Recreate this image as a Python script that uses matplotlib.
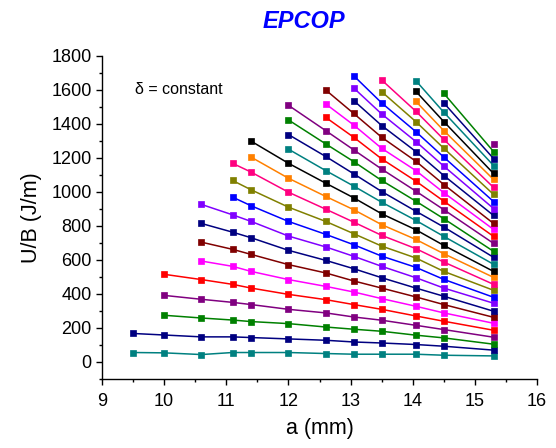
import matplotlib
matplotlib.use("Agg")
import matplotlib.pyplot as plt
from matplotlib.ticker import MultipleLocator

plt.rcParams['font.family'] = ['Liberation Sans', 'DejaVu Sans']

# crack length positions (mm) shared by every curve
a_mm = [9.5, 10.0, 10.6, 11.1, 11.4, 12.0, 12.6, 13.05, 13.5, 14.05, 14.5, 15.3]

# U/B (J/m) for each curve; a curve starts later in a_mm the shorter it is
u01 = [54, 52, 42, 54, 54, 54, 48, 44, 44, 44, 38, 34]
u02 = [166, 157, 146, 146, 142, 134, 126, 116, 110, 101, 91, 68]
u03 = [273, 257, 245, 236, 224, 204, 191, 179, 156, 140, 103]
u04 = [390, 367, 349, 336, 308, 287, 263, 244, 214, 189, 144]
u05 = [514, 483, 455, 433, 396, 365, 336, 308, 269, 238, 185]
u06 = [592, 561, 531, 483, 443, 410, 371, 326, 287, 226]
u07 = [703, 661, 631, 571, 522, 475, 433, 381, 336, 261]
u08 = [813, 762, 729, 655, 596, 547, 494, 433, 385, 297]
u09 = [925, 864, 825, 739, 675, 620, 561, 494, 433, 344]
u10 = [968, 917, 825, 749, 688, 621, 555, 484, 379]
u11 = [1066, 1011, 909, 825, 753, 680, 610, 531, 420]
u12 = [1167, 1115, 997, 897, 821, 743, 665, 586, 455]
u13 = [1203, 1079, 972, 894, 806, 719, 635, 496]
u14 = [1297, 1167, 1050, 964, 870, 776, 684, 531]
u15 = [1250, 1124, 1033, 938, 831, 737, 573]
u16 = [1336, 1207, 1105, 1001, 885, 792, 614]
u17 = [1422, 1281, 1177, 1066, 944, 841, 649]
u18 = [1508, 1359, 1246, 1133, 1003, 894, 696]
u19 = [1437, 1320, 1193, 1062, 944, 737]
u20 = [1516, 1392, 1255, 1124, 994, 778]
u21 = [1598, 1460, 1320, 1179, 1042, 813]
u22 = [1536, 1389, 1236, 1095, 860]
u23 = [1610, 1457, 1295, 1150, 901]
u24 = [1682, 1522, 1353, 1203, 942]
u25 = [1588, 1412, 1255, 984]
u26 = [1657, 1473, 1307, 1025]
u27 = [1531, 1359, 1072]
u28 = [1590, 1412, 1107]
u29 = [1653, 1467, 1154]
u30 = [1522, 1195]
u31 = [1578, 1236]
u32 = [1283]

curves = [u01, u02, u03, u04, u05, u06, u07, u08, u09, u10, u11, u12, u13, u14, u15, u16,
          u17, u18, u19, u20, u21, u22, u23, u24, u25, u26, u27, u28, u29, u30, u31, u32]

palette = ["#008080", "#000080", "#008000", "#800080", "#FF0000", "#FF00FF", "#800000",
           "#000080", "#8000FF", "#0000FF", "#808000", "#FF0080", "#FF8000", "#000000"]

fig = plt.figure(figsize=(5.56, 4.48), dpi=100)
ax = fig.add_axes([0.1835, 0.1547, 0.7824, 0.721])

for i, u in enumerate(curves):
    x = a_mm[len(a_mm) - len(u):]
    c = palette[i % len(palette)]
    ax.plot(x, u, color=c, lw=1.1, marker="s", ms=4.8, mfc=c, mec=c, mew=0.5)

ax.set_xlim(9, 16)
ax.set_ylim(-100, 1800)
ax.xaxis.set_major_locator(MultipleLocator(1))
ax.xaxis.set_minor_locator(MultipleLocator(0.5))
ax.yaxis.set_major_locator(MultipleLocator(200))
ax.yaxis.set_minor_locator(MultipleLocator(100))

for side in ("top", "right"):
    ax.spines[side].set_visible(False)
ax.spines["left"].set_linewidth(1.0)
ax.spines["bottom"].set_linewidth(1.0)
ax.tick_params(which="major", direction="out", length=4, width=1.0, labelsize=13)
ax.tick_params(axis="x", which="major", pad=6)
ax.tick_params(which="minor", direction="out", length=2.5, width=1.0)

ax.set_xlabel("a (mm)", fontsize=15.5, labelpad=6)
ax.set_ylabel("U/B (J/m)", fontsize=15.5, labelpad=7)

ax.text(0.076, 0.895, "δ = constant", transform=ax.transAxes, fontsize=11.5, va="center")
fig.text(0.547, 0.953, "EPCOP", color="#0000FF", fontsize=17, fontweight="bold",
         fontstyle="italic", ha="center", va="center")

fig.savefig("out.png", dpi=100)
